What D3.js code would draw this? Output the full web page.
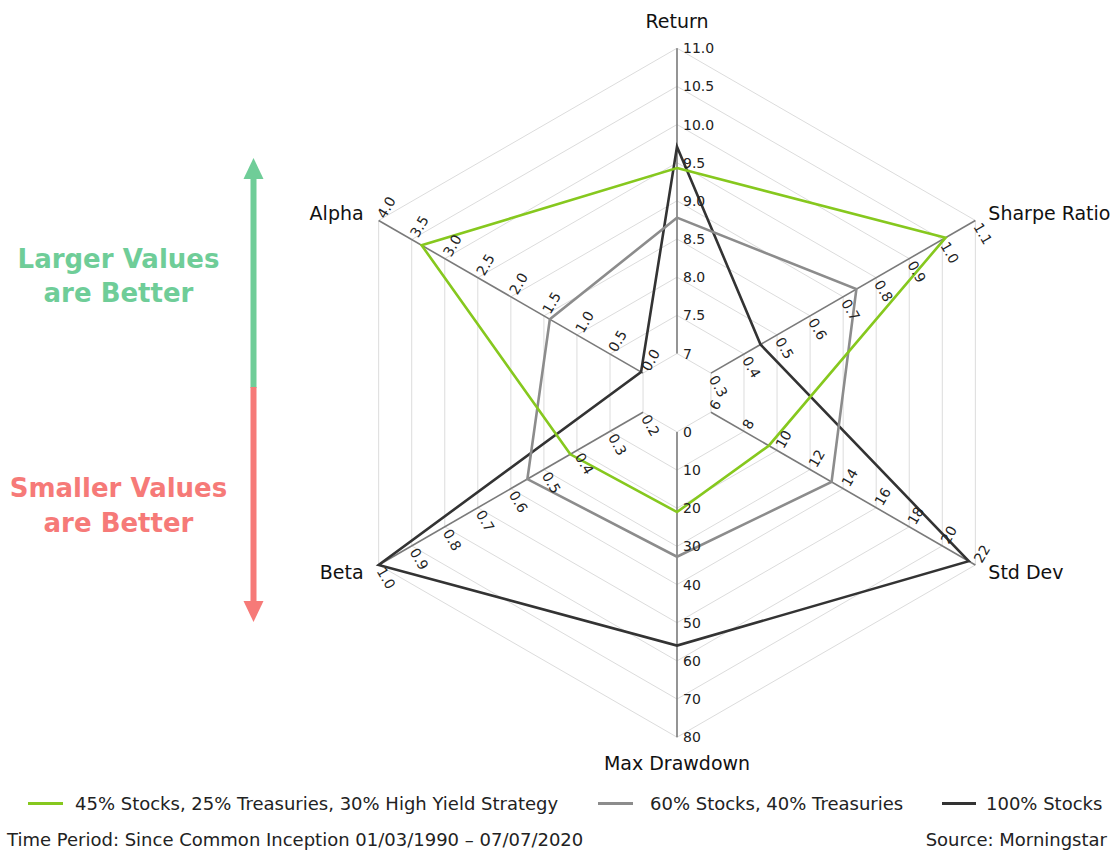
<!DOCTYPE html>
<html>
<head>
<meta charset="utf-8">
<script src="https://cdn.jsdelivr.net/npm/d3@7/dist/d3.min.js"></script>
<style>
  html, body { margin: 0; padding: 0; background: #fff; }
  svg { display: block; font-family: "DejaVu Sans", "Noto Sans", sans-serif; }
</style>
</head>
<body>
<svg id="chart" width="1117" height="851"></svg>
<script>
// Radar axes, clockwise from the top
const axisNames = ["Return", "Sharpe Ratio", "Std Dev", "Max Drawdown", "Beta", "Alpha"];

// Tick labels for each axis (first = inner ring, last = outer ring)
const returnTicks   = ["7", "7.5", "8.0", "8.5", "9.0", "9.5", "10.0", "10.5", "11.0"];
const sharpeTicks   = ["0.3", "0.4", "0.5", "0.6", "0.7", "0.8", "0.9", "1.0", "1.1"];
const stdDevTicks   = ["6", "8", "10", "12", "14", "16", "18", "20", "22"];
const drawdownTicks = ["0", "10", "20", "30", "40", "50", "60", "70", "80"];
const betaTicks     = ["0.2", "0.3", "0.4", "0.5", "0.6", "0.7", "0.8", "0.9", "1.0"];
const alphaTicks    = ["0.0", "0.5", "1.0", "1.5", "2.0", "2.5", "3.0", "3.5", "4.0"];

// Series values in axis order: Return, Sharpe, Std Dev, Max Drawdown, Beta, Alpha
const seriesNames = [
  "45% Stocks, 25% Treasuries, 30% High Yield Strategy",
  "60% Stocks, 40% Treasuries",
  "100% Stocks"
];
const highYieldValues = [9.43, 1.01, 9.5, 21.0, 0.42, 3.35];
const sixtyFortyValues = [8.78, 0.74, 13.3, 32.7, 0.55, 1.41];
const allStocksValues = [9.71, 0.45, 21.6, 56.0, 1.00, 0.03];

const seriesColors = ["#86c81e", "#8c8c8c", "#333333"];

// ---------------------------------------------------------------
const svg = d3.select("#chart");
const cx = 677, cy = 392.7;
const innerR = 39.2, outerR = 344.5;

const axisTicks = [returnTicks, sharpeTicks, stdDevTicks, drawdownTicks, betaTicks, alphaTicks];
const scales = axisTicks.map(t =>
  d3.scaleLinear().domain([+t[0], +t[t.length - 1]]).range([innerR, outerR])
);
const angle = i => (-90 + 60 * i) * Math.PI / 180;
const pt = (i, r) => [cx + r * Math.cos(angle(i)), cy + r * Math.sin(angle(i))];

// Hexagonal grid rings, one per tick step
const gridG = svg.append("g");
const ringCount = returnTicks.length;
for (let k = 0; k < ringCount; k++) {
  const r = innerR + (outerR - innerR) * k / (ringCount - 1);
  const ring = d3.range(6).map(i => pt(i, r));
  gridG.append("path")
    .attr("d", d3.line()(ring) + "Z")
    .attr("fill", "none")
    .attr("stroke", "#dcdcdc")
    .attr("stroke-width", 1);
}

// Axis spokes
const axisG = svg.append("g");
axisNames.forEach((name, i) => {
  const [x1, y1] = pt(i, innerR);
  const [x2, y2] = pt(i, outerR);
  axisG.append("line")
    .attr("x1", x1).attr("y1", y1).attr("x2", x2).attr("y2", y2)
    .attr("stroke", "#7a7a7a").attr("stroke-width", 1.6);
});

// Series polygons
const seriesData = [allStocksValues, sixtyFortyValues, highYieldValues];
const seriesColorOrder = [seriesColors[2], seriesColors[1], seriesColors[0]];
const seriesG = svg.append("g");
seriesData.forEach((vals, s) => {
  const pts = vals.map((v, i) => pt(i, scales[i](v)));
  seriesG.append("path")
    .attr("d", d3.line()(pts) + "Z")
    .attr("fill", "none")
    .attr("stroke", seriesColorOrder[s])
    .attr("stroke-width", 2.6)
    .attr("stroke-linejoin", "miter");
});

// Tick labels, written perpendicular to each spoke
const tickG = svg.append("g").attr("font-size", 14).attr("fill", "#222");
axisTicks.forEach((ticks, i) => {
  const a = angle(i) * 180 / Math.PI;
  let rot = a + 90;
  if (Math.cos(rot * Math.PI / 180) < -1e-6 || Math.abs(Math.cos(rot * Math.PI / 180)) < 1e-6) rot = a - 90;
  if (Math.abs(Math.cos(rot * Math.PI / 180)) < 1e-6) rot = 0;
  rot = ((rot % 360) + 540) % 360 - 180;
  const vertical = Math.abs(Math.cos(angle(i))) < 1e-6;
  ticks.forEach(t => {
    const [x, y] = pt(i, scales[i](+t));
    tickG.append("text")
      .attr("transform", `translate(${x},${y}) rotate(${rot})`)
      .attr("x", vertical ? 6 : 4)
      .attr("dy", "0.36em")
      .text(t);
  });
});

// Axis titles
const titleG = svg.append("g").attr("font-size", 19).attr("fill", "#111");
axisNames.forEach((name, i) => {
  const [vx, vy] = pt(i, outerR);
  const c = Math.cos(angle(i)), s = Math.sin(angle(i));
  let x = vx, y = vy, anchor = "middle";
  if (Math.abs(c) < 1e-6) {
    y = s < 0 ? vy - 20 : vy + 33;
  } else {
    anchor = c > 0 ? "start" : "end";
    x = vx + (c > 0 ? 13 : -15);
    y = s < 0 ? vy - 0.5 : vy + 14.5;
  }
  titleG.append("text")
    .attr("x", x).attr("y", y)
    .attr("text-anchor", anchor)
    .text(name);
});

// "Better" direction arrow on the left
const arrowX = 253.5;
const arrowG = svg.append("g");
arrowG.append("line")
  .attr("x1", arrowX).attr("x2", arrowX).attr("y1", 176).attr("y2", 388)
  .attr("stroke", "#6fcd98").attr("stroke-width", 6);
arrowG.append("path")
  .attr("d", `M${arrowX},158 L${arrowX + 10},179 L${arrowX - 10},179 Z`)
  .attr("fill", "#6fcd98");
arrowG.append("line")
  .attr("x1", arrowX).attr("x2", arrowX).attr("y1", 387).attr("y2", 604)
  .attr("stroke", "#f67a78").attr("stroke-width", 6);
arrowG.append("path")
  .attr("d", `M${arrowX},622 L${arrowX + 10},601 L${arrowX - 10},601 Z`)
  .attr("fill", "#f67a78");

const noteG = svg.append("g")
  .attr("font-size", 26).attr("font-weight", 700).attr("text-anchor", "middle");
[["Larger Values", 268, "#6fcd98"], ["are Better", 302, "#6fcd98"],
 ["Smaller Values", 497, "#f67a78"], ["are Better", 532, "#f67a78"]].forEach(([t, y, col]) => {
  noteG.append("text").attr("x", 118.5).attr("y", y).attr("fill", col).text(t);
});

// Legend
const legendG = svg.append("g").attr("font-size", 18).attr("fill", "#222");
const legendPos = [[28, 63, 75], [598, 633, 650], [942, 976, 986]];
seriesNames.forEach((name, k) => {
  const [l1, l2, tx] = legendPos[k];
  legendG.append("line")
    .attr("x1", l1).attr("x2", l2).attr("y1", 803.5).attr("y2", 803.5)
    .attr("stroke", seriesColors[k]).attr("stroke-width", 3);
  legendG.append("text").attr("x", tx).attr("y", 810).text(name);
});

// Footer
const footG = svg.append("g").attr("font-size", 18).attr("fill", "#222");
footG.append("text").attr("x", 7).attr("y", 846)
  .text("Time Period: Since Common Inception 01/03/1990 – 07/07/2020");
footG.append("text").attr("x", 1107).attr("y", 846).attr("text-anchor", "end")
  .text("Source: Morningstar");
</script>
</body>
</html>
